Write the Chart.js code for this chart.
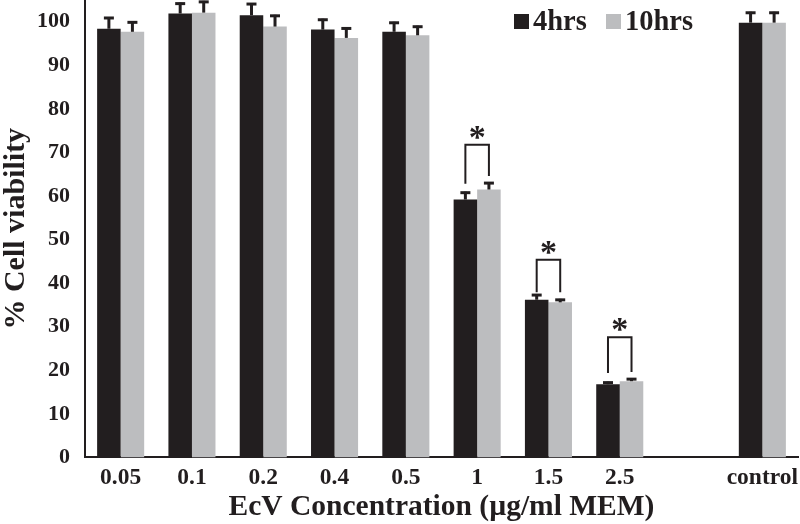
<!DOCTYPE html>
<html>
<head>
<meta charset="utf-8">
<script src="https://cdn.jsdelivr.net/npm/chart.js@4"></script>
<style>
  html, body { margin: 0; padding: 0; background: #fff; }
  #wrap { width: 800px; height: 524px; }
</style>
</head>
<body>
<div id="wrap"><canvas id="c" width="800" height="524"></canvas></div>
<script>
// Kategorien (leere Kategorie als Lücke vor "control")
const categories = ['0.05', '0.1', '0.2', '0.4', '0.5', '1', '1.5', '2.5', '', 'control'];
const seriesLabels = ['4hrs', '10hrs'];

// Mittelwerte % Zellviabilität
const viability4h = [98.4, 101.9, 101.5, 98.2, 97.7, 59.2, 36.2, 16.8, null, 99.8];
const viability10h = [97.7, 102.1, 98.9, 96.3, 96.9, 61.5, 35.6, 17.5, null, 99.8];

// Fehlerbalken (nur obere Hälfte sichtbar)
const error4h = [2.7, 2.5, 2.8, 2.5, 2.3, 1.8, 1.3, 0.6, null, 2.5];
const error10h = [2.4, 2.7, 2.7, 2.4, 2.2, 1.7, 0.8, 0.7, null, 2.5];

// Signifikanz-Klammern: Kategorie-Index, Oberkante, Beinenden links/rechts
const sigIndex = [5, 6, 7];
const sigTop = [71.8, 45.4, 27.6];
const sigLeftEnd = [62.8, 37.9, 19.4];
const sigRightEnd = [64.6, 37.9, 19.6];

const yTicks = [0, 10, 20, 30, 40, 50, 60, 70, 80, 90, 100];

const FONT = "'Liberation Serif', 'Times New Roman', serif";
const BLACK = '#221e1f';
const GRAY = '#bcbdbf';

// Fehlerbalken + Signifikanz-Sterne
const annotations = {
  id: 'annotations',
  afterDatasetsDraw(chart) {
    const ctx = chart.ctx;
    const y = chart.scales.y;
    const errs = [error4h, error10h];
    ctx.save();
    ctx.strokeStyle = BLACK;
    ctx.lineCap = 'butt';
    chart.data.datasets.forEach((ds, di) => {
      const meta = chart.getDatasetMeta(di);
      meta.data.forEach((bar, i) => {
        const v = ds.data[i];
        const e = errs[di][i];
        if (v == null || e == null) return;
        const yTop = y.getPixelForValue(v + e);
        ctx.lineWidth = 3;
        ctx.beginPath();
        ctx.moveTo(bar.x, y.getPixelForValue(v));
        ctx.lineTo(bar.x, yTop);
        ctx.stroke();
        ctx.beginPath();
        ctx.moveTo(bar.x - 5, yTop + 1);
        ctx.lineTo(bar.x + 5, yTop + 1);
        ctx.stroke();
      });
    });

    const m0 = chart.getDatasetMeta(0);
    const m1 = chart.getDatasetMeta(1);
    ctx.lineWidth = 2;
    ctx.fillStyle = BLACK;
    ctx.font = `bold 34px ${FONT}`;
    ctx.textAlign = 'center';
    ctx.textBaseline = 'alphabetic';
    sigIndex.forEach((idx, k) => {
      const xl = m0.data[idx].x;
      const xr = m1.data[idx].x;
      const yt = y.getPixelForValue(sigTop[k]);
      ctx.beginPath();
      ctx.moveTo(xl, y.getPixelForValue(sigLeftEnd[k]));
      ctx.lineTo(xl, yt);
      ctx.lineTo(xr, yt);
      ctx.lineTo(xr, y.getPixelForValue(sigRightEnd[k]));
      ctx.stroke();
      ctx.fillText('*', (xl + xr) / 2, yt + 3);
    });
    ctx.restore();
  },
};

// Legende innerhalb der Zeichenfläche, oben rechts
const innerLegend = {
  id: 'innerLegend',
  afterDraw(chart) {
    const ctx = chart.ctx;
    const pos = [{ x: 514, y: 14 }, { x: 606, y: 14 }];
    ctx.save();
    ctx.font = `bold 28.5px ${FONT}`;
    ctx.textBaseline = 'alphabetic';
    ctx.textAlign = 'left';
    chart.data.datasets.forEach((ds, i) => {
      ctx.fillStyle = ds.backgroundColor;
      ctx.fillRect(pos[i].x, pos[i].y, 15, 15);
      ctx.fillStyle = BLACK;
      ctx.fillText(ds.label, pos[i].x + 19, pos[i].y + 16);
    });
    ctx.restore();
  },
};

new Chart(document.getElementById('c'), {
  type: 'bar',
  data: {
    labels: categories,
    datasets: [
      { label: seriesLabels[0], data: viability4h, backgroundColor: BLACK },
      { label: seriesLabels[1], data: viability10h, backgroundColor: GRAY },
    ],
  },
  options: {
    responsive: false,
    animation: false,
    maintainAspectRatio: false,
    layout: { padding: { left: 0, right: 2, top: 0, bottom: 0 } },
    datasets: { bar: { categoryPercentage: 0.66, barPercentage: 1.0 } },
    plugins: { legend: { display: false }, tooltip: { enabled: false } },
    scales: {
      x: {
        grid: { display: false, drawTicks: false },
        border: { display: true, color: BLACK, width: 2 },
        ticks: {
          color: BLACK, padding: 9, maxRotation: 0, autoSkip: false,
          font: { family: FONT, size: 23.5, weight: 'bold', lineHeight: 1 },
        },
        title: {
          display: true, text: 'EcV Concentration (µg/ml MEM)', color: BLACK,
          font: { family: FONT, size: 29.5, weight: 'bold', lineHeight: 0.85 },
          padding: { top: -4, bottom: 4 },
        },
        afterFit(scale) { scale.paddingLeft = 0; scale.paddingRight = 0; },
      },
      y: {
        min: 0,
        max: 105,
        grid: { display: false, drawTicks: false },
        border: { display: true, color: BLACK, width: 2 },
        afterBuildTicks(scale) { scale.ticks = yTicks.map((v) => ({ value: v })); },
        ticks: { color: BLACK, padding: 15, font: { family: FONT, size: 22, weight: 'bold' } },
        title: {
          display: true, text: '% Cell viability', color: BLACK,
          font: { family: FONT, size: 30, weight: 'bold', lineHeight: 1 },
          padding: { top: 1, bottom: -9 },
        },
        afterFit(scale) { scale.paddingTop = 0; scale.paddingBottom = 0; },
      },
    },
  },
  plugins: [annotations, innerLegend],
});
</script>
</body>
</html>
